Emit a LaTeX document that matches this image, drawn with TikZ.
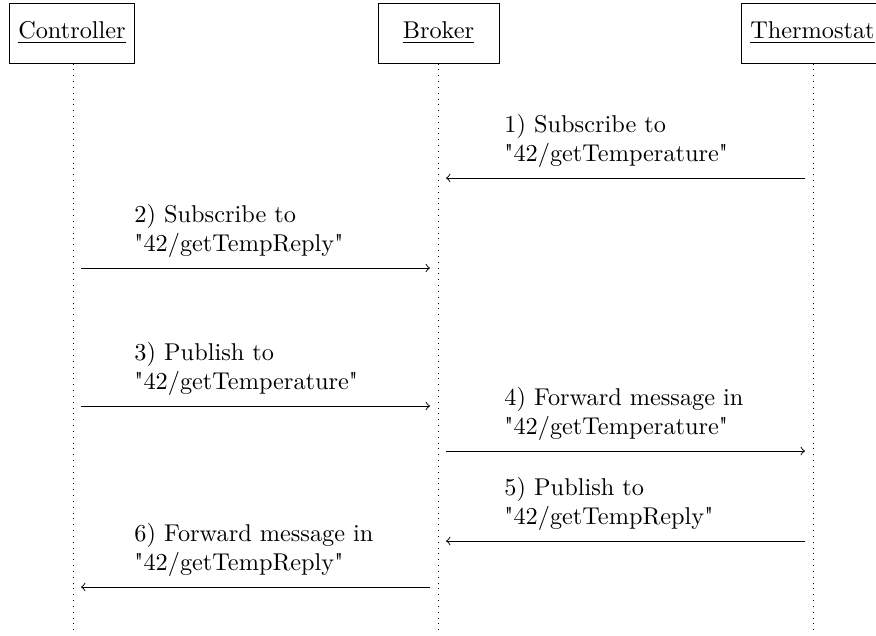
\documentclass[tikz,border=0pt]{standalone}
\font\lmqfont="[lmroman10-regular]" at 10pt
\newcommand\sq{{\lmqfont\char34 }}
\begin{document}
\begin{tikzpicture}[x=0.4115pt,y=-0.4115pt,
  actor/.style={draw, minimum height=24.7pt, minimum width=49.8pt, inner sep=3.7pt},
  life/.style={dotted},
  msg/.style={->},
  lbl/.style={above, text width=3.5cm, align=left, yshift=0.6pt}]
\useasboundingbox (0,0) rectangle (876,635);
% actors
\node[actor] (C) at (72,33) {\underline{Controller}};
\node[actor] (B) at (438.5,33) {\underline{Broker}};
\node[actor] (T) at (812.5,33) {\underline{Thermostat}};
% lifeline ends
\coordinate (Cend) at (73,632);
\coordinate (Bend) at (438,632);
\coordinate (Tend) at (813,632);
\draw[life] (C.south -| Cend) -- (Cend);
\draw[life] (B.south -| Bend) -- (Bend);
\draw[life] (T.south -| Tend) -- (Tend);
% message end points
\coordinate (T1) at (805,178); \coordinate (B1) at (446,178);
\coordinate (C2) at (81,268);  \coordinate (B2) at (430,268);
\coordinate (C3) at (81,406);  \coordinate (B3) at (430,406);
\coordinate (B4) at (446,451); \coordinate (T4) at (805,451);
\coordinate (T5) at (805,541); \coordinate (B5) at (446,541);
\coordinate (B6) at (430,587); \coordinate (C6) at (81,587);
% messages
\draw[msg] (T1) -- node[lbl] {1) Subscribe to\\\sq42/getTemperature\sq} (B1);
\draw[msg] (C2) -- node[lbl] {2) Subscribe to\\\sq42/getTempReply\sq} (B2);
\draw[msg] (C3) -- node[lbl] {3) Publish to\\\sq42/getTemperature\sq} (B3);
\draw[msg] (B4) -- node[lbl] {4) Forward message in\\\sq42/getTemperature\sq} (T4);
\draw[msg] (T5) -- node[lbl] {5) Publish to\\\sq42/getTempReply\sq} (B5);
\draw[msg] (B6) -- node[lbl] {6) Forward message in\\\sq42/getTempReply\sq} (C6);
\end{tikzpicture}
\end{document}
